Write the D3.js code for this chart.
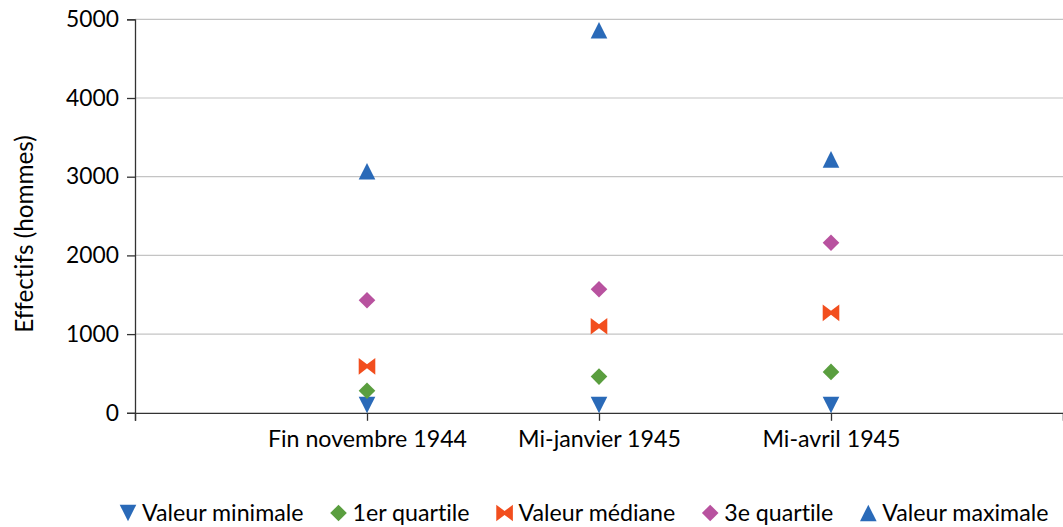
<!DOCTYPE html>
<html><head><meta charset="utf-8">
<script src="https://cdn.jsdelivr.net/npm/d3@7"></script>
<style>body{margin:0;background:#fff}svg{display:block}text{font-family:Lato,"Open Sans",sans-serif;fill:#000;font-variant-ligatures:none;font-feature-settings:"liga" 0,"clig" 0}</style>
</head><body><svg id="c" width="1063" height="527"></svg>
<script>
const categories = ["Fin novembre 1944", "Mi-janvier 1945", "Mi-avril 1945"];
const seriesNames = ["Valeur minimale", "1er quartile", "Valeur médiane", "3e quartile", "Valeur maximale"];
const minValues = [100, 100, 100];
const q1Values = [280, 460, 520];
const medianValues = [590, 1100, 1270];
const q3Values = [1430, 1570, 2160];
const maxValues = [3070, 4860, 3220];
const yTicks = [0, 1000, 2000, 3000, 4000, 5000];
const yTitle = "Effectifs (hommes)";

const colors = ["#2a6ab8", "#5a9e3f", "#f24e1e", "#b8529f", "#2a6ab8"];
const shapes = ["down", "diamond", "bowtie", "diamond", "up"];
const allValues = [minValues, q1Values, medianValues, q3Values, maxValues];

const svg = d3.select("#c");
const L = 135, R = 1063, T = 19.3, B = 412.8;
const x = d3.scaleLinear().domain([0, 4]).range([L, R]);
const y = d3.scaleLinear().domain([0, 5000]).range([B, T]);

// gridlines
svg.append("g").selectAll("line").data(yTicks.filter(d => d > 0)).join("line")
  .attr("x1", L).attr("x2", R).attr("y1", d => y(d)).attr("y2", d => y(d))
  .attr("stroke", "#c4c4c4").attr("stroke-width", 1.2);

// y axis
const yAxis = svg.append("g").attr("transform", `translate(${L},0)`)
  .call(d3.axisLeft(y).tickValues(yTicks).tickSize(8).tickPadding(8).tickFormat(d3.format("d")));
yAxis.select(".domain").attr("stroke", "#333").attr("stroke-width", 1.3);
yAxis.selectAll(".tick line").attr("stroke", "#333").attr("stroke-width", 1.3);
yAxis.selectAll("text").attr("font-size", 22.8).attr("font-family", "Lato").attr("fill", "#000");

// x axis
const xAxis = svg.append("g").attr("transform", `translate(0,${B})`)
  .call(d3.axisBottom(x).tickValues([0, 1, 2, 3, 4]).tickSize(8).tickPadding(10)
    .tickFormat(d => (d >= 1 && d <= 3) ? categories[d - 1] : ""));
xAxis.select(".domain").attr("stroke", "#333").attr("stroke-width", 1.3);
xAxis.selectAll(".tick line").attr("stroke", "#333").attr("stroke-width", 1.3);
xAxis.selectAll("text").attr("font-size", 23.2).attr("font-family", "Lato").attr("fill", "#000");

// y title
svg.append("text").attr("transform", `translate(33,234) rotate(-90)`)
  .attr("text-anchor", "middle").attr("font-size", 24.3).text(yTitle);

function markerPath(shape) {
  const s = 8.3;
  if (shape === "up") return `M0,${-s} L${s},${s} L${-s},${s} Z`;
  if (shape === "down") return `M${-s},${-s} L${s},${-s} L0,${s} Z`;
  if (shape === "diamond") return `M0,${-s} L${s},0 L0,${s} L${-s},0 Z`;
  if (shape === "bowtie") return `M${-s},${-s} L0,-2 L${s},${-s} L${s},${s} L0,2 L${-s},${s} Z`;
}

// points
allValues.forEach((vals, si) => {
  svg.append("g").selectAll("path").data(vals).join("path")
    .attr("transform", (d, i) => `translate(${x(i + 1)},${y(d)})`)
    .attr("d", markerPath(shapes[si])).attr("fill", colors[si]);
});

// legend
const leg = svg.append("g");
let cx = 128;
seriesNames.forEach((name, si) => {
  const g = leg.append("g");
  g.append("path").attr("transform", `translate(${cx},513)`).attr("d", markerPath(shapes[si])).attr("fill", colors[si]);
  const t = g.append("text").attr("x", cx + 14).attr("y", 521).attr("font-size", 23.2).text(name);
  const w = t.node().getComputedTextLength();
  cx = cx + 14 + w + 35;
});
</script></body></html>
